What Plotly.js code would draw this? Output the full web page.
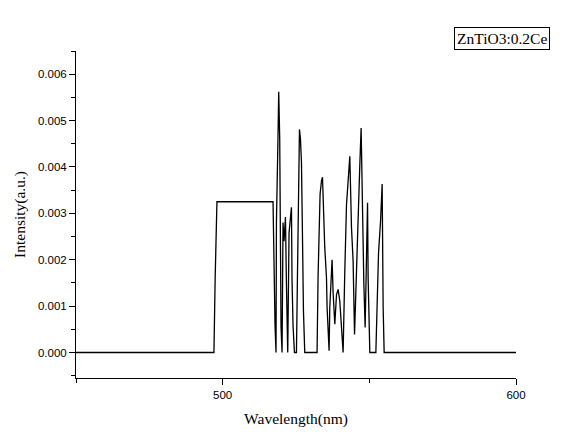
<!DOCTYPE html>
<html>
<head>
<meta charset="utf-8">
<script src="https://cdn.plot.ly/plotly-3.0.1.min.js"></script>
<style>html,body{margin:0;padding:0;background:#fff;}#chart{width:585px;height:437px;}</style>
</head>
<body>
<div id="chart"></div>
<script>
var wavelength = [449.83, 497.03, 497.44, 497.85, 498.05, 517.17, 517.51, 517.85, 518.19, 518.33,
  518.87, 519.11, 519.45, 519.56, 519.90, 520.24, 520.58, 520.92, 521.40, 521.74,
  522.18, 522.63, 523.45, 523.65, 523.99, 524.47, 525.15, 525.49, 525.94, 526.18,
  526.52, 526.86, 527.20, 527.54, 527.99, 532.18, 532.53, 532.87, 533.21, 533.69,
  534.03, 534.81, 535.39, 535.60, 535.94, 536.28, 536.52, 537.10, 537.30, 537.65,
  537.99, 538.23, 538.81, 539.35, 539.93, 540.51, 541.06, 541.64, 542.22, 543.00,
  543.34, 543.92, 544.47, 544.95, 545.63, 546.18, 546.76, 547.20, 547.68, 548.12,
  548.57, 549.04, 549.39, 549.59, 550.17, 552.22, 552.66, 553.14, 553.82, 554.16,
  554.37, 554.71, 555.05, 600.0];
var intensity = [0, 0, 0.00160, 0.00270, 0.00325, 0.00325, 0.00162, 0.00058, 0, 0.00280,
  0.00467, 0.00562, 0.00460, 0.00280, 0.00055, 0, 0.00280, 0.00240, 0.00292, 0.00148,
  0, 0.00258, 0.00313, 0.00155, 0.00058, 0, 0, 0.00162, 0.00400, 0.00481,
  0.00460, 0.00410, 0.00255, 0.00090, 0, 0, 0.00165, 0.00280, 0.00341, 0.00370,
  0.00378, 0.00226, 0.00161, 0.00097, 0.00036, 0.00004, 0.00097, 0.00165, 0.00200, 0.00129,
  0.00090, 0.00061, 0.00125, 0.00136, 0.00111, 0.00054, 0, 0.00176, 0.00319, 0.00391,
  0.00423, 0.00269, 0.00197, 0.00039, 0.00197, 0.00283, 0.00405, 0.00484, 0.00283, 0.00151,
  0.00054, 0.00269, 0.00323, 0.00161, 0, 0, 0.00097, 0.00215, 0.00283, 0.00348,
  0.00363, 0.00097, 0, 0];
var seriesName = "ZnTiO3:0.2Ce";
var xTitle = "Wavelength(nm)";
var yTitle = "Intensity(a.u.)";

var trace = {
  x: wavelength, y: intensity, type: 'scatter', mode: 'lines',
  line: {color: '#000', width: 1.3}, name: seriesName, showlegend: false,
  hoverinfo: 'skip'
};
var tickFont = {family: 'Liberation Sans, Arial, sans-serif', size: 11.5, color: '#000'};
var titleFont = {family: 'Liberation Serif, Times New Roman, serif', size: 15.5, color: '#000'};
var layout = {
  width: 585, height: 437,
  margin: {l: 76, r: 69, t: 51, b: 59},
  paper_bgcolor: '#fff', plot_bgcolor: '#fff',
  showlegend: false,
  xaxis: {
    range: [450, 600], tick0: 500, dtick: 100, ticks: 'outside', ticklen: 6, tickwidth: 1,
    tickcolor: '#000', showline: true, linecolor: '#000', linewidth: 1, mirror: false,
    showgrid: false, zeroline: false, tickfont: tickFont,
    minor: {dtick: 50, tick0: 450, ticks: 'outside', ticklen: 4, tickcolor: '#000', showgrid: false},
    title: {text: xTitle, font: titleFont, standoff: 13}
  },
  yaxis: {
    range: [-0.00055, 0.0065], tick0: 0, dtick: 0.001, tickformat: '.3f', ticks: 'outside', ticklen: 6,
    tickwidth: 1, tickcolor: '#000', showline: true, linecolor: '#000', linewidth: 1, mirror: false,
    showgrid: false, zeroline: false, tickfont: tickFont,
    minor: {dtick: 0.0005, tick0: 0, ticks: 'outside', ticklen: 4, tickcolor: '#000', showgrid: false},
    title: {text: yTitle, font: titleFont, standoff: 8}
  },
  annotations: [{
    xref: 'paper', yref: 'paper', x: 0.969, y: 1.038, xanchor: 'center', yanchor: 'middle',
    text: seriesName, showarrow: false, font: titleFont,
    bordercolor: '#000', borderwidth: 1, borderpad: 2, bgcolor: '#fff'
  }]
};
Plotly.newPlot('chart', [trace], layout, {staticPlot: true, displayModeBar: false});
</script>
</body>
</html>
